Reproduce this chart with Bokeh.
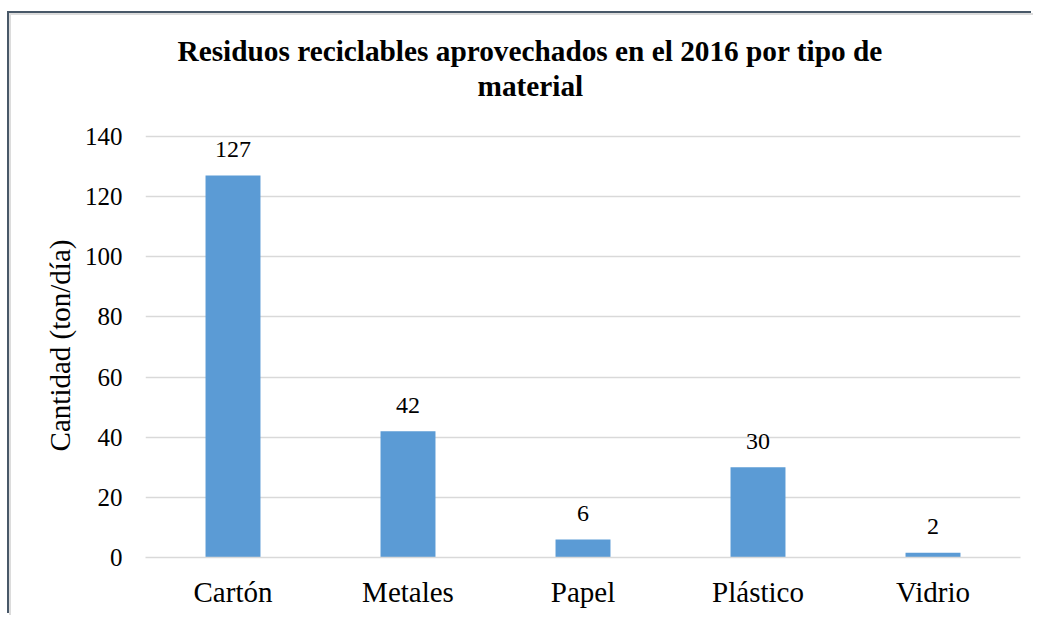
from bokeh.plotting import figure
from bokeh.models import Range1d, FactorRange, Title, ColumnDataSource, FixedTicker
from bokeh.core.properties import value
from bokeh.embed import file_html
from bokeh.resources import INLINE

categories = ["Cartón", "Metales", "Papel", "Plástico", "Vidrio"]
values = [127, 42, 6, 30, 1.6]
labels = [f"{v:.0f}" for v in values]
y_ticks = [0, 20, 40, 60, 80, 100, 120, 140]
title_lines = ["Residuos reciclables aprovechados en el 2016 por tipo de", "material"]

FONT = "Liberation Serif"
BAR = "#5B9BD5"
GRID = "#D9D9D9"

src = ColumnDataSource(dict(cat=categories, val=values, lab=labels))

p = figure(width=1024, height=602, x_range=FactorRange(factors=categories, range_padding=0),
           y_range=Range1d(0, 141), output_backend="svg", toolbar_location=None,
           min_border_left=134, min_border_right=15, min_border_top=118, min_border_bottom=60)
p.margin = (13, 0, 0, 9)
p.styles = {"border-top": "2px solid #DCDCDC", "border-left": "2px solid #DCDCDC",
            "box-shadow": "-2px -2px 0 0 #485868"}
p.outline_line_color = None
p.background_fill_color = "white"
p.border_fill_color = "white"

p.vbar(x="cat", top="val", width=0.314, source=src, fill_color=BAR, line_color=None)
p.text(x="cat", y="val", text="lab", source=src, text_align="center", text_baseline="alphabetic",
       y_offset=-26, text_font=value(FONT), text_font_size="24px", text_color="black")

p.xgrid.grid_line_color = None
p.ygrid.grid_line_color = GRID
p.ygrid.grid_line_width = 1.3
p.yaxis.ticker = FixedTicker(ticks=y_ticks)

p.yaxis.axis_line_color = None
p.yaxis.major_tick_line_color = None
p.yaxis.minor_tick_line_color = None
p.yaxis.major_label_text_font = FONT
p.yaxis.major_label_text_font_size = "25px"
p.yaxis.major_label_text_color = "black"
p.yaxis.major_label_standoff = 17
p.yaxis.axis_label = "Cantidad (ton/día)"
p.yaxis.axis_label_text_font = FONT
p.yaxis.axis_label_text_font_size = "29px"
p.yaxis.axis_label_text_font_style = "normal"
p.yaxis.axis_label_text_color = "black"
p.yaxis.axis_label_standoff = 6

p.xaxis.axis_line_color = GRID
p.xaxis.axis_line_width = 1.3
p.xaxis.major_tick_line_color = None
p.xaxis.minor_tick_line_color = None
p.xaxis.major_label_text_font = FONT
p.xaxis.major_label_text_font_size = "29px"
p.xaxis.major_label_text_color = "black"
p.xaxis.major_label_standoff = 12

p.title = None
title_style = dict(text_font=FONT, text_font_style="bold", text_color="black")
spacer = Title(text=" ", align="left", offset=0, standoff=0, text_font_size="26px", **title_style)
t2 = Title(text=title_lines[1], align="left", offset=332, standoff=1, text_font_size="29.3px", **title_style)
t1 = Title(text=title_lines[0], align="left", offset=32, standoff=1, text_font_size="29.3px", **title_style)
p.add_layout(spacer, "above")
p.add_layout(t2, "above")
p.add_layout(t1, "above")

open("out.html", "w").write(file_html(p, INLINE))
